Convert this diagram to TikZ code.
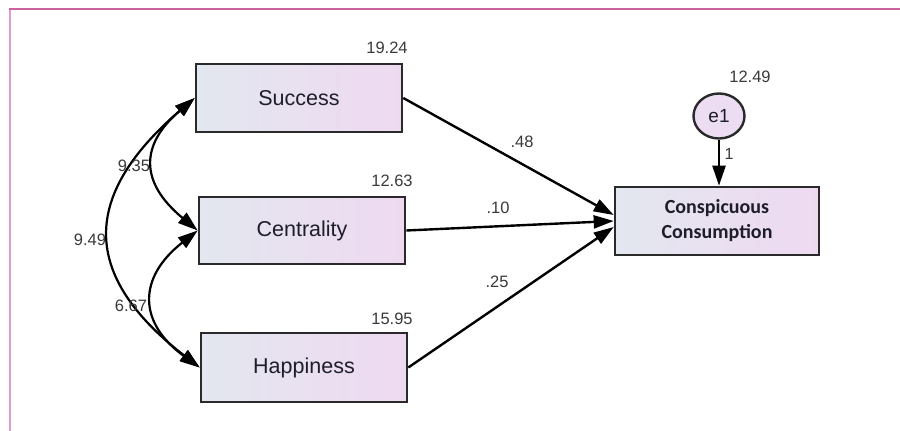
\documentclass[tikz,border=0pt]{standalone}
\usepackage{fontspec}
\setmainfont{Liberation Sans}
\newfontfamily\cali{Carlito}
\usetikzlibrary{arrows.meta,shapes.geometric}
\definecolor{frameL}{HTML}{E09CD0}
\definecolor{frameT}{HTML}{C9629F}
\definecolor{boxL}{HTML}{E3E7EF}
\definecolor{boxR}{HTML}{EFD9F1}
\definecolor{boxline}{HTML}{2A2A2A}
\definecolor{txt}{HTML}{1E1E2A}
\definecolor{numc}{HTML}{3A3A3A}
\definecolor{circfill}{HTML}{ECDDF2}
\tikzset{
  varbox/.style={draw=boxline, line width=2.6pt, left color=boxL, right color=boxR,
    minimum width=206pt, minimum height=68pt, inner sep=0pt,
    font=\fontsize{21.5}{25}\selectfont, text=txt},
  numlab/.style={font=\fontsize{16.5}{20}\selectfont, text=numc, inner sep=0pt},
  pathar/.style={line width=2.4pt, draw=black, -{Triangle[length=20pt,width=13pt]}},
  covar/.style={line width=2.2pt, draw=black,
    {Triangle[length=20pt,width=13pt]}-{Triangle[length=20pt,width=13pt]}}
}
\begin{document}
\begin{tikzpicture}[x=1pt,y=-1pt]
\useasboundingbox (0,0) rectangle (900,431);
\fill[white] (0,0) rectangle (900,431);
\draw[frameL, line width=2.5pt] (10,9) -- (10,431);
\draw[frameT, line width=2pt] (9,9) -- (900,9);

\node[varbox] (suc) at (299,98) {Success};
\node[varbox, minimum height=67pt] (cen) at (302,230.5) {Centrality};
\node[varbox, minimum height=69pt] (hap) at (304,367.5) {Happiness};
\node[varbox, minimum width=204pt, align=center,
      font=\cali\bfseries\fontsize{20}{25}\selectfont] (cc) at (717,221) {Conspicuous\\Consumption};
\node[draw=boxline, line width=2.4pt, fill=circfill, ellipse, minimum width=51pt, minimum height=45pt,
      inner sep=0pt, font=\fontsize{19}{22}\selectfont, text=txt] (e1) at (719,116) {e1};

\node[numlab] (vsuc) at (387,48) {19.24};
\node[numlab] (vcen) at (392,181) {12.63};
\node[numlab] (vhap) at (392,319) {15.95};
\node[numlab] (ve1) at (750,77) {12.49};

\draw[pathar] (suc.east) -- ([yshift=6pt]cc.west);
\draw[pathar] (cen.east) -- (cc.west);
\draw[pathar] (hap.east) -- ([yshift=-6pt]cc.west);
\draw[pathar] (e1.south) -- (e1.south |- cc.north);

\node[numlab] (w1) at (522,142) {.48};
\node[numlab] (w2) at (498,208) {.10};
\node[numlab] (w3) at (497,282) {.25};
\node[numlab, font=\fontsize{16}{18}\selectfont] (w4) at (729,154) {1};

\draw[covar] (suc.west) .. controls +(-55,47) and +(-58,-48) .. (cen.west);
\draw[covar] (suc.west) .. controls +(-114,98) and +(-119,-92) .. (hap.west);
\draw[covar] (cen.west) .. controls +(-60,47) and +(-62,-45) .. (hap.west);

\node[numlab] (c1) at (134,166) {9.35};
\node[numlab] (c2) at (90,240) {9.49};
\node[numlab] (c3) at (131,306) {6.67};
\end{tikzpicture}
\end{document}
